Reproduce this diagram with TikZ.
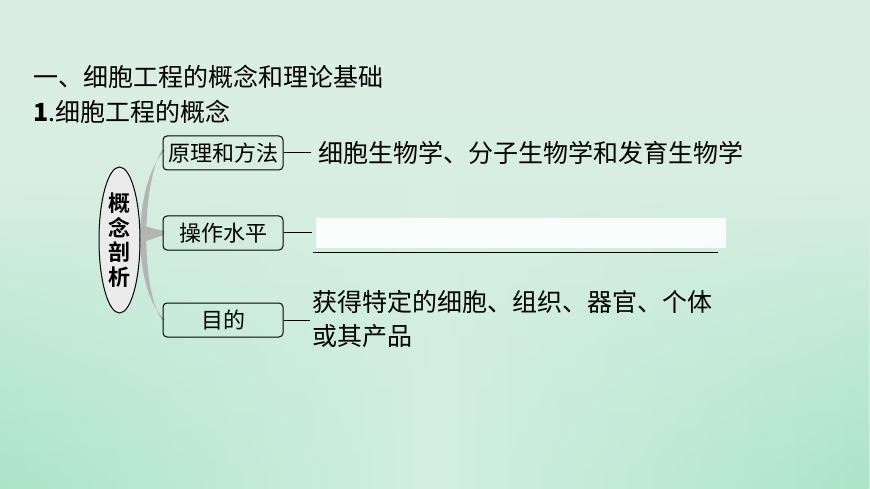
\documentclass[tikz,border=0pt]{standalone}
\usepackage{fontspec}
\setmainfont{Liberation Serif}
\newfontfamily\cjk{Noto Sans CJK SC}
\newfontfamily\cjkb{Noto Sans CJK SC Bold}
\usetikzlibrary{shapes.geometric,fadings}
\definecolor{bgtop}{HTML}{DCEEE4}
\definecolor{bgbot}{HTML}{D2EEE2}
\definecolor{bgside}{HTML}{ABE5C8}
\definecolor{brk}{HTML}{B4B4B4}
\definecolor{ellfill}{HTML}{EBEBEB}
\begin{document}
\begin{tikzpicture}[x=1pt,y=-1pt,
  boxstyle/.style={draw=black,line width=1pt,rounded corners=4pt,fill=none,minimum width=120pt,minimum height=34pt,inner sep=0pt,font=\cjk\fontsize{22}{24}\selectfont},
  maintext/.style={font=\cjk\fontsize{25}{34}\selectfont,inner sep=0pt,anchor=west},
  conn/.style={draw=black,line width=1pt}]
% background
\shade[top color=bgtop,bottom color=bgbot] (0,0) rectangle (870,489);
\shade[left color=bgside,right color=bgside,middle color=bgbot,path fading=north] (0,180) rectangle (870,489);
\useasboundingbox (0,0) rectangle (870,489);
% headings
\node[maintext] (t1) at (33,77) {\cjk 一、细胞工程的概念和理论基础};
\node[maintext] (t2) at (33,112) {\textbf{1}.\cjk 细胞工程的概念};
% bracket
\fill[brk] (165,150) .. controls (132,185) and (132,290) .. (165,320)
  -- (162,320) .. controls (141,290) and (141,185) .. (162,150) -- cycle;
\fill[brk] (143,226) -- (164,231) -- (164,235) -- (143,242) -- cycle;
% ellipse
\node[ellipse,draw=black,line width=1pt,fill=ellfill,minimum width=41pt,minimum height=146pt,inner sep=0pt,align=center,font=\cjkb\fontsize{22}{24.5}\selectfont] (e) at (119.5,240) {概\\念\\剖\\析};
% boxes
\node[boxstyle] (b1) at (223,153) {原理和方法};
\node[boxstyle] (b2) at (223,233) {操作水平};
\node[boxstyle] (b3) at (223,320) {目的};
% right side
\coordinate (c1) at (311,153);
\coordinate (c2) at (312,233);
\coordinate (c3) at (310,320);
\draw[conn] (b1.east) -- (c1);
\draw[conn] (b2.east) -- (c2);
\draw[conn] (b3.east) -- (c3);
\node[maintext] (r1) at (318,153) {细胞生物学、分子生物学和发育生物学};
\node[fill=white,opacity=0.85,minimum width=410pt,minimum height=30pt,inner sep=0pt,anchor=west] (blank) at (316,233) {};
\coordinate (u1) at (313,252);
\coordinate (u2) at (718,252);
\draw[conn] (u1) -- (u2);
\node[maintext,align=left,anchor=north west] (r3) at (312,290) {获得特定的细胞、组织、器官、个体\\或其产品};
\end{tikzpicture}
\end{document}
